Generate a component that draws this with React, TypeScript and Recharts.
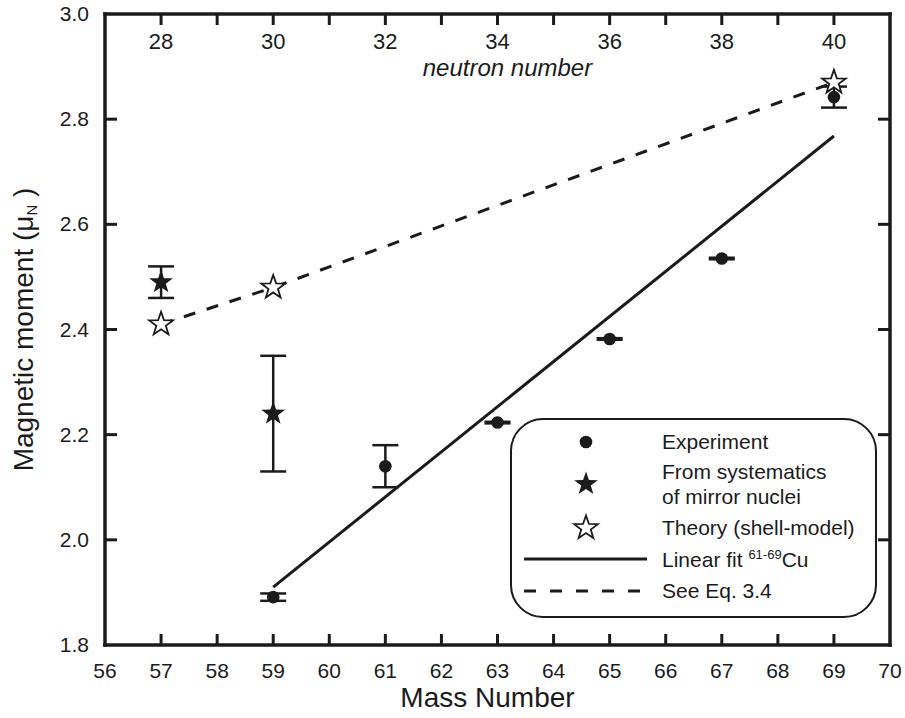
import { ComposedChart, Scatter, XAxis, YAxis, ErrorBar } from "recharts";

const INK = "#1b1b1b";
const FONT = '"Liberation Sans", Arial, Helvetica, sans-serif';

// axis ticks
const massTicks = [56, 57, 58, 59, 60, 61, 62, 63, 64, 65, 66, 67, 68, 69, 70];
const topTicks = [57, 58, 59, 60, 61, 62, 63, 64, 65, 66, 67, 68, 69];
const momentTicks = [1.8, 2.0, 2.2, 2.4, 2.6, 2.8, 3.0];
const innerMomentTicks = [2.0, 2.2, 2.4, 2.6, 2.8];
const PROTONS = 29; // Cu, neutron number = A - 29

// experiment
const expMass = [59, 61, 63, 65, 67, 69];
const expMoment = [1.891, 2.14, 2.223, 2.382, 2.535, 2.842];
const expError = [0.007, 0.04, 0.0015, 0.0015, 0.0015, 0.02];

// from systematics of mirror nuclei
const mirrorMass = [57, 59];
const mirrorMoment = [2.49, 2.24];
const mirrorError = [0.03, 0.11];

// shell-model theory
const theoryMass = [57, 59, 69];
const theoryMoment = [2.41, 2.48, 2.87];

// linear fit 61-69Cu
const fitMass = [59, 69];
const fitMoment = [1.91, 2.768];

const toPoints = (xs: number[], ys: number[], errs?: number[]) =>
  xs.map((x, i) => ({ mass: x, moment: ys[i], err: errs ? errs[i] : 0 }));

const expData = toPoints(expMass, expMoment, expError);
const mirrorData = toPoints(mirrorMass, mirrorMoment, mirrorError);
const theoryData = toPoints(theoryMass, theoryMoment);
const fitData = toPoints(fitMass, fitMoment);

function starPath(cx: number, cy: number, R: number) {
  const r = R * 0.4;
  const pts: string[] = [];
  for (let i = 0; i < 10; i++) {
    const rad = i % 2 === 0 ? R : r;
    const a = -Math.PI / 2 + (i * Math.PI) / 5;
    pts.push(`${(cx + rad * Math.cos(a)).toFixed(2)},${(cy + rad * Math.sin(a)).toFixed(2)}`);
  }
  return `M${pts.join("L")}Z`;
}

const Dot = (p: any) => <circle cx={p.cx} cy={p.cy} r={6.3} fill={INK} />;
const FilledStar = (p: any) => <path d={starPath(p.cx, p.cy, 12.5)} fill={INK} />;
const OpenStar = (p: any) => (
  <path d={starPath(p.cx, p.cy, 12.5)} fill="#fff" stroke={INK} strokeWidth={1.8} strokeLinejoin="miter" />
);
const NoShape = () => <g />;

const bottomTick = (p: any) => {
  const v = p.payload.value;
  return (
    <g>
      {v > 56 && v < 70 && <line x1={p.x} x2={p.x} y1={p.y} y2={p.y - 11} stroke={INK} strokeWidth={3} />}
      <text x={p.x} y={p.y + 33} textAnchor="middle" fontSize={21} fill={INK} fontFamily={FONT}>
        {v}
      </text>
    </g>
  );
};

const topTick = (p: any) => {
  const v = p.payload.value;
  return (
    <g>
      <line x1={p.x} x2={p.x} y1={p.y} y2={p.y + 11} stroke={INK} strokeWidth={3} />
      {v % 2 === 1 && (
        <text x={p.x} y={p.y + 35} textAnchor="middle" fontSize={22} fill={INK} fontFamily={FONT}>
          {v - PROTONS}
        </text>
      )}
    </g>
  );
};

const leftTick = (p: any) => {
  const v = p.payload.value;
  const inner = v > 1.85 && v < 2.95;
  return (
    <g>
      {inner && <line x1={p.x} x2={p.x + 12} y1={p.y} y2={p.y} stroke={INK} strokeWidth={3} />}
      <text x={p.x - 16} y={p.y + 7} textAnchor="end" fontSize={21} fill={INK} fontFamily={FONT}>
        {v.toFixed(1)}
      </text>
    </g>
  );
};

const rightTick = (p: any) => (
  <line x1={p.x} x2={p.x - 12} y1={p.y} y2={p.y} stroke={INK} strokeWidth={3} />
);

const massLabel = (p: any) => {
  const vb = p.viewBox || { x: 105, y: 645, width: 785, height: 73 };
  return (
    <text x={vb.x + vb.width / 2 - 10} y={vb.y + 62} textAnchor="middle" fontSize={28} fill={INK} fontFamily={FONT}>
      Mass Number
    </text>
  );
};

const neutronLabel = (p: any) => {
  const vb = p.viewBox || { x: 105, y: 0, width: 785, height: 14 };
  return (
    <text
      x={vb.x + vb.width / 2 + 10}
      y={vb.y + vb.height + 62}
      textAnchor="middle"
      fontSize={24}
      fontStyle="italic"
      fill={INK}
      fontFamily={FONT}
    >
      neutron number
    </text>
  );
};

const momentLabel = (p: any) => {
  const vb = p.viewBox || { x: 0, y: 14, width: 105, height: 631 };
  const cx = 33;
  const cy = vb.y + vb.height / 2;
  return (
    <text
      x={cx}
      y={cy}
      transform={`rotate(-90 ${cx} ${cy})`}
      textAnchor="middle"
      fontSize={28}
      fill={INK}
      fontFamily={FONT}
    >
      Magnetic moment (μ
      <tspan fontSize={15} dy={4}>
        N
      </tspan>
      <tspan dy={-4}> )</tspan>
    </text>
  );
};

const legendItems = [
  { kind: "dot", text: ["Experiment"] },
  { kind: "star", text: ["From systematics", "of mirror nuclei"] },
  { kind: "open", text: ["Theory (shell-model)"] },
  { kind: "solid", text: ["Linear fit"] },
  { kind: "dash", text: ["See Eq. 3.4"] },
];

function LegendBox() {
  const symX = 586;
  const textX = 662;
  const rows = [442, 484, 528, 559, 591];
  return (
    <svg
      width={905}
      height={718}
      style={{ position: "absolute", left: 0, top: 0, pointerEvents: "none" }}
      fontFamily={FONT}
    >
      <rect x={511} y={419} width={365} height={198} rx={32} ry={32} fill="#fff" stroke={INK} strokeWidth={2} />
      {legendItems.map((item, i) => {
        const y = rows[i];
        let sym = null;
        if (item.kind === "dot") sym = <circle cx={symX} cy={y} r={6.3} fill={INK} />;
        if (item.kind === "star") sym = <path d={starPath(symX, y, 12.5)} fill={INK} />;
        if (item.kind === "open")
          sym = <path d={starPath(symX, y, 12.5)} fill="#fff" stroke={INK} strokeWidth={1.8} />;
        if (item.kind === "solid") sym = <line x1={524} x2={647} y1={y} y2={y} stroke={INK} strokeWidth={3} />;
        if (item.kind === "dash")
          sym = <line x1={524} x2={642} y1={y} y2={y} stroke={INK} strokeWidth={3} strokeDasharray="12 14" />;
        return (
          <g key={i}>
            {sym}
            {item.text.length === 2 ? (
              <>
                <text x={textX} y={y - 5} fontSize={21} fill={INK}>
                  {item.text[0]}
                </text>
                <text x={textX} y={y + 20} fontSize={21} fill={INK}>
                  {item.text[1]}
                </text>
              </>
            ) : item.kind === "solid" ? (
              <text x={textX} y={y + 8} fontSize={21} fill={INK}>
                {item.text[0]}{" "}
                <tspan fontSize={13} dy={-8}>
                  61-69
                </tspan>
                <tspan dy={8}>Cu</tspan>
              </text>
            ) : (
              <text x={textX} y={y + 7} fontSize={21} fill={INK}>
                {item.text[0]}
              </text>
            )}
          </g>
        );
      })}
    </svg>
  );
}

const axisLine = { stroke: INK, strokeWidth: 3.5, strokeLinecap: "square" as const };

export default function App() {
  return (
    <div style={{ position: "absolute", left: 0, top: 0, width: 905, height: 718, background: "#fff" }}>
      <ComposedChart width={905} height={718} margin={{ top: 0, right: 0, bottom: 0, left: 0 }}>
        <XAxis
          xAxisId="bottom"
          dataKey="mass"
          type="number"
          orientation="bottom"
          domain={[56, 70]}
          ticks={massTicks}
          interval={0}
          height={73}
          allowDataOverflow
          axisLine={axisLine}
          tickLine={false}
          tickSize={0}
          tickMargin={0}
          tick={bottomTick}
          label={massLabel}
        />
        <XAxis
          xAxisId="top"
          dataKey="mass"
          type="number"
          orientation="top"
          domain={[56, 70]}
          ticks={topTicks}
          interval={0}
          height={14}
          allowDataOverflow
          axisLine={axisLine}
          tickLine={false}
          tickSize={0}
          tickMargin={0}
          tick={topTick}
          label={neutronLabel}
        />
        <YAxis
          yAxisId="left"
          dataKey="moment"
          type="number"
          orientation="left"
          domain={[1.8, 3.0]}
          ticks={momentTicks}
          interval={0}
          width={105}
          allowDataOverflow
          axisLine={axisLine}
          tickLine={false}
          tickSize={0}
          tickMargin={0}
          tick={leftTick}
          label={momentLabel}
        />
        <YAxis
          yAxisId="right"
          dataKey="moment"
          type="number"
          orientation="right"
          domain={[1.8, 3.0]}
          ticks={innerMomentTicks}
          interval={0}
          width={15}
          allowDataOverflow
          axisLine={axisLine}
          tickLine={false}
          tickSize={0}
          tickMargin={0}
          tick={rightTick}
        />

        <Scatter
          xAxisId="bottom"
          yAxisId="left"
          data={theoryData}
          dataKey="moment"
          line={{ stroke: INK, strokeWidth: 3, strokeDasharray: "12 12" }}
          shape={NoShape}
          isAnimationActive={false}
        />
        <Scatter
          xAxisId="bottom"
          yAxisId="left"
          data={fitData}
          dataKey="moment"
          line={{ stroke: INK, strokeWidth: 3 }}
          shape={NoShape}
          isAnimationActive={false}
        />
        <Scatter
          xAxisId="bottom"
          yAxisId="left"
          data={expData}
          dataKey="moment"
          shape={Dot}
          isAnimationActive={false}
        >
          <ErrorBar dataKey="err" direction="y" width={13} stroke={INK} strokeWidth={2.5} isAnimationActive={false} />
        </Scatter>
        <Scatter
          xAxisId="bottom"
          yAxisId="left"
          data={mirrorData}
          dataKey="moment"
          shape={FilledStar}
          isAnimationActive={false}
        >
          <ErrorBar dataKey="err" direction="y" width={13} stroke={INK} strokeWidth={2.5} isAnimationActive={false} />
        </Scatter>
        <Scatter
          xAxisId="bottom"
          yAxisId="left"
          data={theoryData}
          dataKey="moment"
          shape={OpenStar}
          isAnimationActive={false}
        />
      </ComposedChart>
      <LegendBox />
    </div>
  );
}
